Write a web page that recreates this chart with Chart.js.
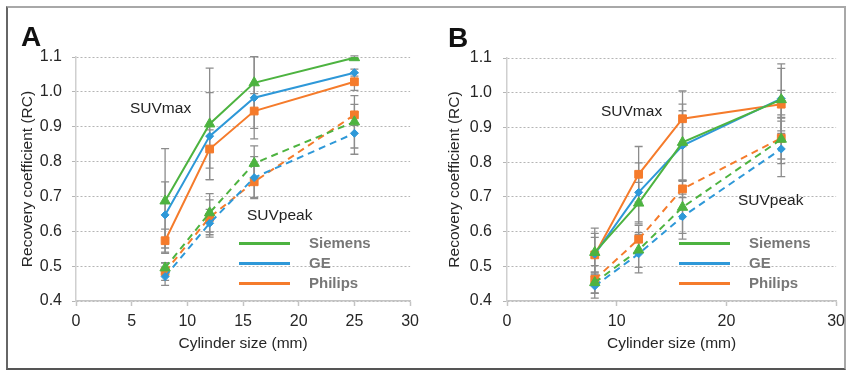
<!DOCTYPE html>
<html lang="en">
<head>
<meta charset="UTF-8">
<title>Recovery coefficient vs cylinder size</title>
<script src="https://cdn.jsdelivr.net/npm/chart.js"></script>
<style>
    body { margin: 0; background: #fff; font-family: "Liberation Sans", Arial, sans-serif; }
    #fig { position: relative; width: 851px; height: 371px; overflow: hidden; }
    .frame { position: absolute; left: 6px; top: 6px; width: 836px; height: 360px;
             border: 2px solid #a8a8a8; border-left-color: #666; border-bottom-color: #555; }
    canvas { position: absolute; top: 0; }
    .panel { position: absolute; font-size: 28px; font-weight: bold; line-height: 28px; color: #111; }
    .note { position: absolute; font-size: 15.5px; line-height: 18px; color: #222; white-space: nowrap; }
    .leg { position: absolute; height: 18px; font-size: 15px; font-weight: bold; line-height: 18px; color: #777; white-space: nowrap; }
    .leg i { position: absolute; left: 0; top: 8px; width: 51px; height: 3px; }
    .leg span { position: absolute; left: 70px; top: 0; }
</style>
</head>
<body>
<div id="fig">
    <div class="frame"></div>
    <canvas id="chartA" width="425" height="371" style="left:0"></canvas>
    <canvas id="chartB" width="426" height="371" style="left:425px"></canvas>

    <div class="panel" style="left:21px; top:23px">A</div>
    <div class="panel" style="left:448px; top:24px">B</div>

    <div class="note" style="left:130px; top:99px">SUVmax</div>
    <div class="note" style="left:247px; top:206px">SUVpeak</div>
    <div class="note" style="left:601px; top:102px">SUVmax</div>
    <div class="note" style="left:738px; top:191px">SUVpeak</div>
</div>

<script>
    // x positions (mm)
    const sizes = [8, 12, 16, 25];
    const vendors = ['Siemens', 'GE', 'Philips'];
    const vendorColors = ['#4db340', '#2e98d8', '#f57b2b'];
    const vendorPoints = ['triangle', 'rectRot', 'rect'];
    const vendorRadius = [6, 4, 5.5];

    // Panel A values
    const aMaxSiemens  = [0.687, 0.908, 1.026, 1.098];
    const aMaxGE       = [0.647, 0.873, 0.983, 1.055];
    const aMaxPhilips  = [0.573, 0.836, 0.945, 1.029];
    const aPeakSiemens = [0.495, 0.653, 0.795, 0.914];
    const aPeakGE      = [0.470, 0.623, 0.754, 0.881];
    const aPeakPhilips = [0.484, 0.640, 0.742, 0.934];
    // Panel A error bars (+/-)
    const aMaxSiemensErr  = [0.150, 0.160, 0.075, 0.005];
    const aMaxGEErr       = [0.095, 0.125, 0.118, 0.010];
    const aMaxPhilipsErr  = [0.033, 0.055, 0.050, 0.025];
    const aPeakSiemensErr = [0.015, 0.055, 0.050, 0.075];
    const aPeakGEErr      = [0.025, 0.040, 0.060, 0.060];
    const aPeakPhilipsErr = [0.025, 0.050, 0.045, 0.030];

    // Panel B values
    const bMaxSiemens  = [0.540, 0.682, 0.857, 0.980];
    const bMaxGE       = [0.535, 0.713, 0.848, 0.983];
    const bMaxPhilips  = [0.533, 0.765, 0.925, 0.967];
    const bPeakSiemens = [0.453, 0.547, 0.670, 0.866];
    const bPeakGE      = [0.443, 0.536, 0.643, 0.838];
    const bPeakPhilips = [0.462, 0.578, 0.723, 0.869];
    // Panel B error bars (+/-)
    const bMaxSiemensErr  = [0.070, 0.060, 0.110, 0.090];
    const bMaxGEErr       = [0.060, 0.085, 0.100, 0.100];
    const bMaxPhilipsErr  = [0.050, 0.080, 0.080, 0.040];
    const bPeakSiemensErr = [0.030, 0.050, 0.075, 0.070];
    const bPeakGEErr      = [0.035, 0.055, 0.065, 0.080];
    const bPeakPhilipsErr = [0.040, 0.040, 0.025, 0.060];

    Chart.defaults.font.family = '"Liberation Sans", Arial, sans-serif';

    // gray error bars, drawn under the lines
    const errorBars = {
        id: 'errorBars',
        beforeDatasetsDraw(chart) {
            const { ctx, scales: { x, y } } = chart;
            ctx.save();
            ctx.strokeStyle = '#8c8c8c';
            ctx.lineWidth = 1.3;
            chart.data.datasets.forEach(ds => {
                ds.data.forEach((p, i) => {
                    const e = ds.errors[i];
                    const px = x.getPixelForValue(p.x);
                    const top = y.getPixelForValue(p.y + e);
                    const bot = y.getPixelForValue(p.y - e);
                    ctx.beginPath();
                    ctx.moveTo(px, top); ctx.lineTo(px, bot);
                    ctx.moveTo(px - 4, top); ctx.lineTo(px + 4, top);
                    ctx.moveTo(px - 4, bot); ctx.lineTo(px + 4, bot);
                    ctx.stroke();
                });
            });
            ctx.restore();
        }
    };

    function makeSet(values, errors, v, dashed) {
        return {
            data: sizes.map((s, i) => ({ x: s, y: values[i] })),
            errors: errors,
            borderColor: vendorColors[v],
            backgroundColor: vendorColors[v],
            borderWidth: 2,
            borderDash: dashed ? [7, 5] : [],
            pointStyle: vendorPoints[v],
            pointRadius: vendorRadius[v],
            pointBorderWidth: 1,
            tension: 0
        };
    }

    function makePanel(id, step, axisWidth, padTop, padRight, titlePad, labelPad, sets) {
        return new Chart(document.getElementById(id), {
            type: 'line',
            data: { datasets: sets },
            plugins: [errorBars],
            options: {
                responsive: false,
                animation: false,
                layout: { padding: { top: padTop, right: padRight, left: 0, bottom: 0 } },
                plugins: { legend: { display: false }, tooltip: { enabled: false } },
                scales: {
                    x: {
                        type: 'linear', min: 0, max: 30,
                        ticks: { stepSize: step, color: '#262626', font: { size: 16 }, padding: 6, maxRotation: 0 },
                        grid: { drawOnChartArea: false, drawTicks: true, tickLength: 5, tickColor: '#c4c4c4', tickWidth: 1.5 },
                        border: { color: '#c4c4c4', width: 1.5 },
                        title: { display: true, text: 'Cylinder size (mm)', color: '#262626',
                                 font: { size: 15.5 }, padding: { top: 0, bottom: 18 } },
                        afterFit: s => { s.height = 70; }
                    },
                    y: {
                        min: 0.4, max: 1.1,
                        ticks: { stepSize: 0.1, color: '#262626', font: { size: 16 }, padding: labelPad,
                                 callback: v => v.toFixed(1) },
                        grid: { color: '#b5b5b5', lineWidth: 1, tickLength: 4, tickColor: '#b5b5b5' },
                        border: { color: '#cfcfcf', width: 1.5, dash: [2, 2] },
                        title: { display: true, text: 'Recovery coefficient (RC)', color: '#262626',
                                 font: { size: 15.5 }, padding: { top: titlePad, bottom: 0 } },
                        afterFit: s => { s.width = axisWidth; }
                    }
                }
            }
        });
    }

    makePanel('chartA', 5, 76, 57, 12, 18.5, 10, [
        makeSet(aMaxSiemens, aMaxSiemensErr, 0, false),
        makeSet(aMaxGE, aMaxGEErr, 1, false),
        makeSet(aMaxPhilips, aMaxPhilipsErr, 2, false),
        makeSet(aPeakSiemens, aPeakSiemensErr, 0, true),
        makeSet(aPeakGE, aPeakGEErr, 1, true),
        makeSet(aPeakPhilips, aPeakPhilipsErr, 2, true)
    ]);

    makePanel('chartB', 10, 82, 58, 11, 20.5, 11, [
        makeSet(bMaxSiemens, bMaxSiemensErr, 0, false),
        makeSet(bMaxGE, bMaxGEErr, 1, false),
        makeSet(bMaxPhilips, bMaxPhilipsErr, 2, false),
        makeSet(bPeakSiemens, bPeakSiemensErr, 0, true),
        makeSet(bPeakGE, bPeakGEErr, 1, true),
        makeSet(bPeakPhilips, bPeakPhilipsErr, 2, true)
    ]);

    // legends (lines + names) for both panels
    const fig = document.getElementById('fig');
    [[239, 243], [679, 243]].forEach(([lx, ly]) => {
        vendors.forEach((name, v) => {
            const row = document.createElement('div');
            row.className = 'leg';
            row.style.left = lx + 'px';
            row.style.top = (ly + v * 20 - 9) + 'px';
            row.innerHTML = '<i style="background:' + vendorColors[v] + '"></i><span>' + name + '</span>';
            fig.appendChild(row);
        });
    });
</script>
</body>
</html>
